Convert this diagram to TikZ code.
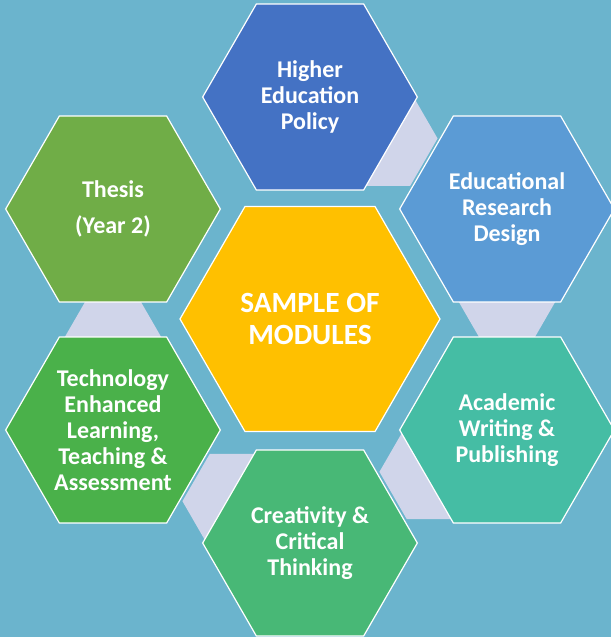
\documentclass[tikz,border=0pt]{standalone}
\usepackage{fontspec}
\setmainfont{Carlito}
\usetikzlibrary{shapes.geometric,calc}

\definecolor{bgblue}{RGB}{107,180,205}
\definecolor{linkgrey}{RGB}{208,213,234}
\definecolor{coregold}{RGB}{255,192,0}
\definecolor{policyblue}{RGB}{68,114,196}
\definecolor{designblue}{RGB}{91,155,213}
\definecolor{writingteal}{RGB}{69,189,164}
\definecolor{thinkgreen}{RGB}{72,184,118}
\definecolor{techgreen}{RGB}{74,177,74}
\definecolor{thesisgreen}{RGB}{112,173,71}

\begin{document}
\begin{tikzpicture}[x=0.75pt,y=-0.75pt,
hexbox/.style={regular polygon,regular polygon sides=6,minimum size=161pt,inner sep=0pt,
    draw=white,line width=0.9pt,text=white,align=center,
    font=\bfseries\fontsize{18}{19.5}\selectfont},
corebox/.style={hexbox,minimum size=195pt,font=\bfseries\fontsize{22}{24}\selectfont},
linkbox/.style={regular polygon,regular polygon sides=6,minimum size=82pt,inner sep=0pt,fill=linkgrey}]
\useasboundingbox (0,0) rectangle (611,637);
\clip (0,0) rectangle (611,637);
\fill [bgblue] (0,0) rectangle (611,637);

% centres of the outer ring
\coordinate (pTop) at (310,97);
\coordinate (pUR) at (507,209);
\coordinate (pLR) at (507,430);
\coordinate (pBot) at (310,543);
\coordinate (pLL) at (113,430);
\coordinate (pUL) at (113,209);

% grey links between neighbours
\node (lnkA) [linkbox] at ($(pTop)!0.37!(pUR)$) {};
\node (lnkB) [linkbox] at ($(pUR)!0.37!(pLR)$) {};
\node (lnkC) [linkbox] at ($(pLR)!0.37!(pBot)$) {};
\node (lnkD) [linkbox] at ($(pBot)!0.37!(pLL)$) {};
\node (lnkE) [linkbox] at ($(pLL)!0.37!(pUL)$) {};

\node (core) [corebox,fill=coregold] at (310,319) {SAMPLE OF\\MODULES};
\node (policy) [hexbox,fill=policyblue] at (pTop) {Higher\\Education\\Policy};
\node (design) [hexbox,fill=designblue] at (pUR) {Educational\\Research\\Design};
\node (writing) [hexbox,fill=writingteal] at (pLR) {Academic\\Writing \&\\Publishing};
\node (think) [hexbox,fill=thinkgreen] at (pBot) {Creativity \&\\Critical\\Thinking};
\node (tech) [hexbox,fill=techgreen] at (pLL) {Technology\\Enhanced\\Learning,\\Teaching \&\\Assessment};
\node (thesis) [hexbox,fill=thesisgreen] at (pUL) {Thesis\\[8pt](Year 2)};
\end{tikzpicture}
\end{document}
